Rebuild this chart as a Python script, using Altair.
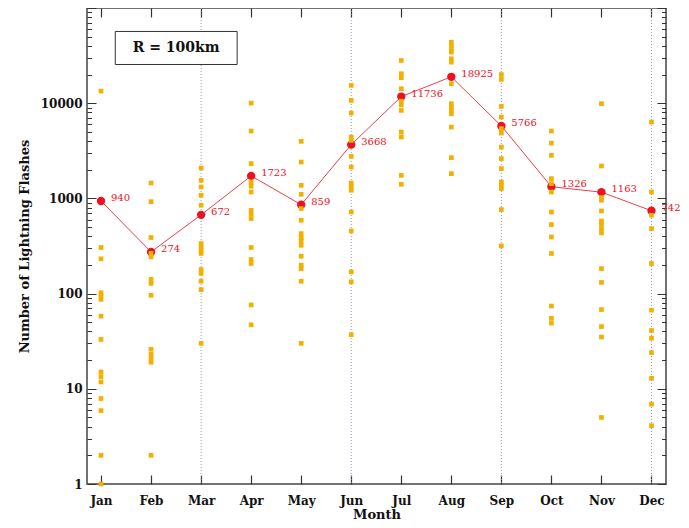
import altair as alt
import pandas as pd

months = ["Jan", "Feb", "Mar", "Apr", "May", "Jun", "Jul", "Aug", "Sep", "Oct", "Nov", "Dec"]

# yearly flash counts per month (orange squares)
jan = [13400, 305, 232, 102, 95, 87, 58, 33, 15, 13.4, 11.8, 7.9, 5.9, 2, 1]
feb = [1450, 925, 388, 265, 243, 141, 128, 96, 26, 23, 21, 19, 2]
mar = [2085, 1549, 1318, 1078, 847, 336, 309, 285, 264, 179, 163, 135, 110, 30]
apr = [10030, 5100, 2318, 1487, 1340, 1167, 750, 681, 614, 305, 228, 207, 76, 47]
may = [3975, 2410, 1372, 1105, 782, 589, 427, 388, 357, 322, 247, 199, 183, 135, 30]
jun = [15380, 10700, 7870, 4410, 4070, 2765, 2135, 1450, 1318, 1217, 720, 455, 169, 133, 37]
jul = [28100, 20400, 18530, 14200, 10500, 9600, 8400, 4980, 4410, 1747, 1406]
aug = [43700, 40400, 37200, 34400, 29300, 27000, 16000, 9880, 9100, 8400, 7750, 5610, 2680, 1820]
sep = [20000, 17800, 9250, 7150, 5400, 4860, 3460, 2615, 2055, 1487, 1372, 1267, 763, 317]
oct_ = [5100, 3810, 2833, 1614, 1430, 1167, 720, 531, 394, 264, 74, 55, 49]
nov = [9880, 2190, 1019, 955, 738, 579, 535, 482, 434, 183, 131, 68, 45, 35, 5]
dec = [6340, 1167, 665, 482, 207, 67, 41, 34, 24, 12.9, 6.9, 4.1]

# monthly means (red line)
means = [940, 274, 672, 1723, 859, 3668, 11736, 18925, 5766, 1326, 1163, 742]

dotted_months = [3, 6, 9, 12]
y_major = [1, 10, 100, 1000, 10000, 100000]
y_labels = [1, 10, 100, 1000, 10000]
y_minor = [k * d for d in [1, 10, 100, 1000, 10000] for k in range(2, 10)]
month_ticks = list(range(1, 13))

box_text = "R = 100km"
box_x = [1.285, 3.72]
box_y = [25500, 56700]
box_center = [2.50, 37600]

samples = [jan, feb, mar, apr, may, jun, jul, aug, sep, oct_, nov, dec]
pts = pd.DataFrame([{"m": i + 1, "v": v} for i, vals in enumerate(samples) for v in vals])
mean_df = pd.DataFrame({"m": month_ticks, "v": means, "lab": [str(v) for v in means]})
rule_df = pd.DataFrame({"m": dotted_months})
ymaj_df = pd.DataFrame({"v": y_major})
ymin_df = pd.DataFrame({"v": y_minor})
mt_df = pd.DataFrame({"m": month_ticks})
box_df = pd.DataFrame({"x": [box_x[0]], "x2": [box_x[1]], "y": [box_y[0]], "y2": [box_y[1]],
                       "cx": [box_center[0]], "cy": [box_center[1]], "t": [box_text]})

xs = alt.Scale(domain=[0.72, 12.29], nice=False, zero=False)
ys = alt.Scale(type="log", domain=[1, 100000], nice=False)

label_expr = "[" + ",".join(f"'{m}'" for m in months) + "][datum.value - 1]"

RED = "#EE1122"
ORANGE = "#F4B000"
TICK = "#333333"

rules = alt.Chart(rule_df).mark_rule(strokeDash=[1, 2], color="#8E9CC0", strokeWidth=1).encode(
    x=alt.X("m:Q", scale=xs, axis=None))

box = alt.Chart(box_df).mark_rect(fill="white", stroke="#333333", strokeWidth=1).encode(
    x=alt.X("x:Q", scale=xs, axis=None), x2="x2:Q",
    y=alt.Y("y:Q", scale=ys, axis=None), y2="y2:Q")
box_t = alt.Chart(box_df).mark_text(font="DejaVu Serif", fontWeight="bold", fontSize=14,
                                    color="#111111").encode(
    x=alt.X("cx:Q", scale=xs, axis=None), y=alt.Y("cy:Q", scale=ys, axis=None), text="t:N")

line = alt.Chart(mean_df).mark_line(color="#E8404C", strokeWidth=1).encode(
    x=alt.X("m:Q", scale=xs, axis=None), y=alt.Y("v:Q", scale=ys, axis=None))
dots = alt.Chart(mean_df).mark_circle(color=RED, opacity=1, size=70).encode(
    x=alt.X("m:Q", scale=xs, axis=None), y=alt.Y("v:Q", scale=ys, axis=None))

squares = alt.Chart(pts).mark_square(color=ORANGE, opacity=1, size=22).encode(
    x=alt.X("m:Q", scale=xs, title="Month",
            axis=alt.Axis(orient="bottom", values=month_ticks, labelExpr=label_expr,
                          ticks=False, domain=False, labelPadding=11, titlePadding=2)),
    y=alt.Y("v:Q", scale=ys, title="Number of Lightning Flashes",
            axis=alt.Axis(orient="left", values=y_labels, format="d", ticks=False,
                          domain=False, labelPadding=5, titlePadding=9)))

labels = alt.Chart(mean_df).mark_text(align="left", baseline="middle", dx=10, dy=-3,
                                      color=RED, font="DejaVu Serif", fontSize=10).encode(
    x=alt.X("m:Q", scale=xs, axis=None), y=alt.Y("v:Q", scale=ys, axis=None), text="lab:N")


def ytick_layer(df, vals, orient, size):
    return alt.Chart(df).mark_point(opacity=0).encode(
        y=alt.Y("v:Q", scale=ys, title=None,
                axis=alt.Axis(orient=orient, values=vals, labels=False, domain=False,
                              tickSize=size, offset=-size, tickColor=TICK, tickWidth=1,
                              title=None)))


def xtick_layer(orient, size):
    return alt.Chart(mt_df).mark_point(opacity=0).encode(
        x=alt.X("m:Q", scale=xs, title=None,
                axis=alt.Axis(orient=orient, values=month_ticks, labels=False, domain=False,
                              tickSize=size, offset=-size, tickColor=TICK, tickWidth=1.2,
                              title=None)))


chart = alt.layer(
    rules, box, box_t, line, dots, squares, labels,
    ytick_layer(ymaj_df, y_major, "left", 9),
    ytick_layer(ymin_df, y_minor, "left", 4.5),
    ytick_layer(ymaj_df, y_major, "right", 9),
    ytick_layer(ymin_df, y_minor, "right", 4.5),
    xtick_layer("bottom", 9),
    xtick_layer("top", 9),
).resolve_axis(x="independent", y="independent").properties(
    width=579, height=476,
    autosize=alt.AutoSizeParams(type="none"),
    padding={"left": 79, "top": 0, "right": 15, "bottom": 44},
).configure_view(stroke="#444444", strokeWidth=1.5).configure_axis(
    labelFont="DejaVu Serif", labelFontWeight="bold", labelFontSize=12, labelColor="#111111",
    titleFont="DejaVu Serif", titleFontWeight="bold", titleFontSize=13, titleColor="#111111",
    grid=False)

chart.save("out.html", embed_options={"renderer": "svg", "actions": False})
